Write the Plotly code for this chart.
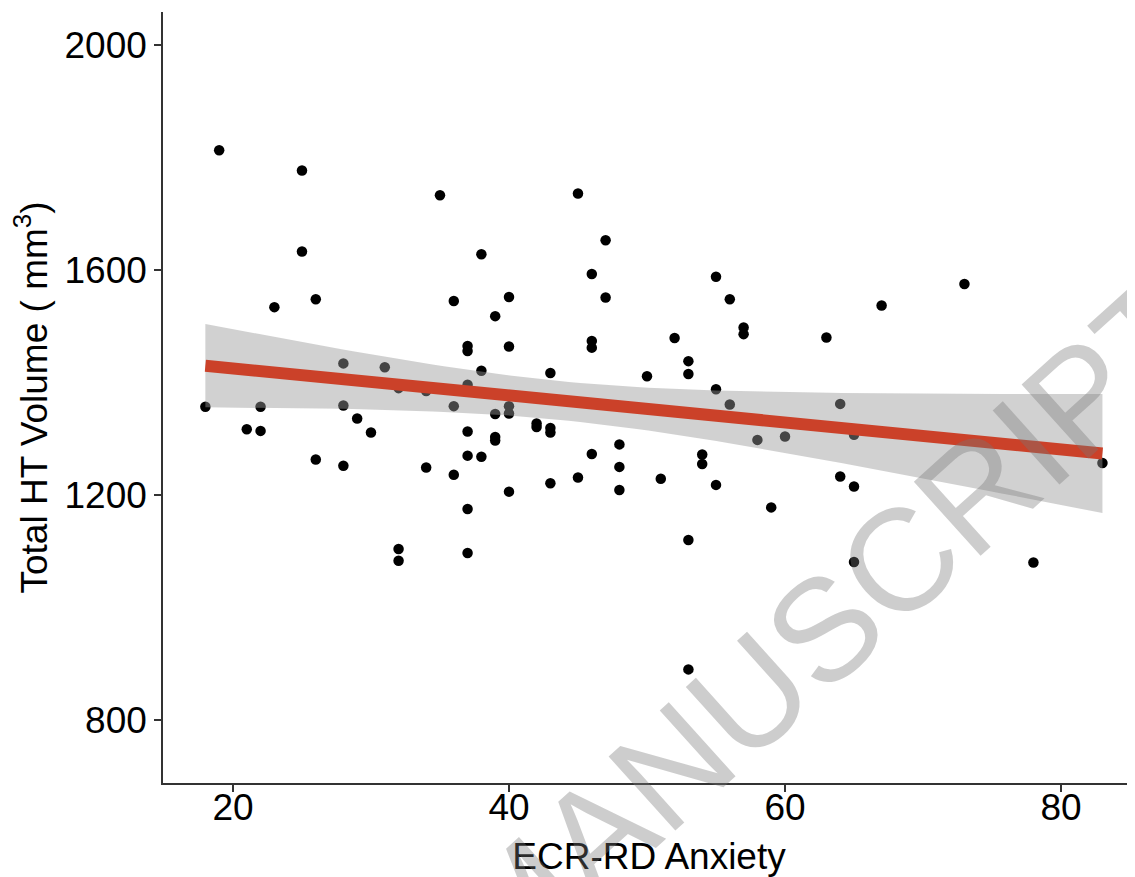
import numpy as np
import plotly.graph_objects as go

# ECR-RD Anxiety scores
anxiety = [18, 19, 21, 22, 22, 23, 25, 25, 26, 26, 28, 28, 28, 29, 30, 31, 32, 32, 32, 34, 34,
           35, 36, 36, 36, 37, 37, 37, 37, 37, 37, 37, 38, 38, 38, 39, 39, 39, 39,
           40, 40, 40, 40, 40, 42, 42, 43, 43, 43, 43, 45, 45, 46, 46, 46, 46, 47, 47,
           48, 48, 48, 50, 51, 52, 53, 53, 53, 53, 54, 54, 55, 55, 55, 56, 56, 57, 57,
           58, 59, 60, 63, 64, 64, 65, 65, 65, 67, 73, 78, 83]
# Total HT volume (mm^3)
volume = [1357, 1813, 1317, 1357, 1314, 1534, 1777, 1633, 1548, 1263, 1434, 1359, 1252, 1336, 1311,
          1427, 1390, 1104, 1083, 1385, 1249, 1733, 1545, 1358, 1236, 1465, 1456, 1396, 1313, 1270,
          1175, 1097, 1628, 1421, 1268, 1518, 1344, 1303, 1297, 1552, 1464, 1358, 1345, 1206,
          1327, 1321, 1417, 1319, 1311, 1221, 1736, 1231, 1593, 1474, 1462, 1273, 1653, 1551,
          1290, 1250, 1209, 1411, 1229, 1479, 1438, 1415, 1120, 890, 1272, 1255, 1588, 1388,
          1218, 1548, 1361, 1498, 1486, 1298, 1178, 1304, 1480, 1362, 1233, 1307, 1215, 1081,
          1537, 1575, 1080, 1257]

x_ticks = [20, 40, 60, 80]
y_ticks = [800, 1200, 1600, 2000]

# linear fit with 95% confidence band (as geom_smooth(method="lm"))
x = np.array(anxiety, dtype=float)
y = np.array(volume, dtype=float)
n = len(x)
slope, intercept = np.polyfit(x, y, 1)
resid = y - (slope * x + intercept)
s = np.sqrt(np.sum(resid ** 2) / (n - 2))
xbar = x.mean()
sxx = np.sum((x - xbar) ** 2)
xs = np.linspace(x.min(), x.max(), 80)
fit = slope * xs + intercept
se = s * np.sqrt(1.0 / n + (xs - xbar) ** 2 / sxx)
tval = 1.986
lo = fit - tval * se
hi = fit + tval * se

fig = go.Figure()
fig.add_trace(go.Scatter(x=anxiety, y=volume, mode="markers",
                         marker=dict(color="black", size=10.5), showlegend=False))
fig.add_trace(go.Scatter(x=xs, y=lo, mode="lines", line=dict(width=0),
                         showlegend=False, hoverinfo="skip"))
fig.add_trace(go.Scatter(x=xs, y=hi, mode="lines", line=dict(width=0),
                         fill="tonexty", fillcolor="rgba(153,153,153,0.45)",
                         showlegend=False, hoverinfo="skip"))
fig.add_trace(go.Scatter(x=xs, y=fit, mode="lines",
                         line=dict(color="#CB4129", width=12), showlegend=False))

# the page puts the figure 8 px in from the top-left corner
OFF = 8
W, H = 1135 - OFF, 877 - OFF
L, R, T, B = 163 - OFF, 0, 12 - OFF, 877 - 783
pw, ph = W - L - R, H - T - B

def px(xp):
    return (xp - OFF - L) / pw

def py(yp):
    return (H - B - (yp - OFF)) / ph

fig.add_annotation(text="ACCEPTED MANUSCRIPT", xref="paper", yref="paper",
                   x=px(519), y=py(904), showarrow=False, textangle=-42,
                   font=dict(family="Liberation Sans, Arial, sans-serif", size=145,
                             color="rgba(120,120,120,0.37)"),
                   xanchor="center", yanchor="middle")

axis_font = dict(family="Liberation Sans, Arial, sans-serif", size=37, color="black")
fig.update_layout(
    width=W, height=H,
    margin=dict(l=L, r=R, t=T, b=B),
    paper_bgcolor="white", plot_bgcolor="white",
    font=axis_font,
    xaxis=dict(range=[14.93, 85.36], tickvals=x_ticks, showgrid=False, zeroline=False,
               showline=True, linecolor="#333333", linewidth=1.5, automargin=False,
               ticks="outside", ticklen=7, tickwidth=1.5, tickcolor="#333333",
               tickfont=axis_font, ticklabelstandoff=-16,
               title=dict(text="ECR-RD Anxiety", font=axis_font, standoff=16)),
    yaxis=dict(range=[688, 2058.7], tickvals=y_ticks, showgrid=False, zeroline=False,
               showline=True, linecolor="#333333", linewidth=1.5, automargin=False,
               ticks="outside", ticklen=7, tickwidth=1.5, tickcolor="#333333",
               tickfont=axis_font,
               title=dict(text="Total HT Volume ( mm<sup>3</sup>)", font=axis_font, standoff=8)),
)

fig.write_html("out.html")
